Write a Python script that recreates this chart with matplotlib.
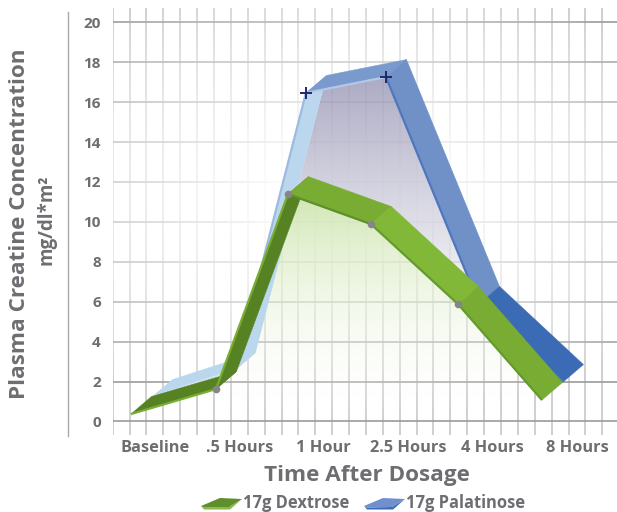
import matplotlib
matplotlib.use('Agg')
import matplotlib.pyplot as plt
from matplotlib.colors import to_rgb
from matplotlib.lines import Line2D
from matplotlib.patches import Polygon
import numpy as np

categories = ['Baseline', '.5 Hours', '1 Hour', '2.5 Hours', '4 Hours', '8 Hours']
y_ticks = list(range(0, 21, 2))

# valores, la perspectiva 3D desplaza cada punto en x
dextrose_x = [-0.284, 0.723, 1.576, 2.559, 3.59, 4.585]
dextrose = [0.37, 1.62, 11.39, 9.89, 5.88, 1.07]
palatinose_x = [-0.036, 0.948, 1.789, 2.737, 3.839, 4.834]
palatinose = [1.22, 2.57, 16.46, 17.26, 5.89, 1.97]

# fondo de la cinta 3D, en unidades de datos
DEPTH_X = 0.243
DEPTH_Y = 0.88
GRAY = '#6d6e71'

green_top = ['#568224', '#568224', '#79ac33', '#82b838', '#79ac33']
green_edge = ['#79ac33', '#79ac33', '#5f8f2a', '#659a2c', '#659a2c']
blue_top = ['#bbd7ee', '#bbd7ee', '#7a9ace', '#7090c8', '#3b6bb5']
blue_edge = ['#d5e2f2', '#9dbae0', '#b5c7e6', '#4f77bd', '#4f77bd']

plt.rcParams['font.family'] = ['Open Sans', 'DejaVu Sans']

fig = plt.figure(figsize=(6.17, 5.12), dpi=100)
ax = fig.add_axes([112.7 / 617, 1 - 435 / 512, 1 - 112.7 / 617, 427 / 512])
ax.set_xlim(-0.5, 5.474)
ax.set_ylim(-0.68, 20.72)
for s in ax.spines.values():
    s.set_visible(False)

# rejilla
ax.set_yticks(y_ticks)
ax.set_xticks(range(len(categories)))
ax.set_xticklabels(categories)
ax.set_xticks(np.arange(-0.5, 5.5, 0.2), minor=True)
ax.tick_params(which='both', length=0)
ax.tick_params(axis='y', pad=8.5, labelsize=11, labelcolor=GRAY)
ax.tick_params(axis='x', pad=3.5, labelsize=11.8, labelcolor=GRAY)
for lab in ax.get_xticklabels() + ax.get_yticklabels():
    lab.set_fontweight('bold')
ax.grid(True, axis='y', which='major', color='#9b9b9b', lw=1.2, zorder=1)
ax.grid(True, axis='x', which='minor', color='#cbcbcb', lw=1.3, zorder=1)
ax.set_axisbelow(True)

# la rejilla se desvanece hacia el centro
yy, xx = np.mgrid[0:1:200j, 0:1:200j]
r = np.sqrt(((xx - 0.47) / 0.62) ** 2 + ((yy - 0.56) / 0.42) ** 2)
glow = np.ones((200, 200, 4))
glow[..., 3] = np.clip(1.25 - r, 0, 1) ** 0.8 * 0.95
ax.imshow(glow, extent=[-0.5, 5.474, -0.68, 20.72], origin='lower', aspect='auto', zorder=1.5)


def relleno(puntos, color, v_top, v_bottom, a_top, pot, z):
    """Relleno con degradado vertical que se hace transparente hacia abajo."""
    t = np.linspace(1, 0, 200).reshape(-1, 1)
    img = np.zeros((200, 2, 4))
    img[..., :3] = to_rgb(color)
    img[..., 3] = a_top * t ** pot
    im = ax.imshow(img, extent=[-0.5, 5.474, v_bottom, v_top], aspect='auto', zorder=z)
    im.set_clip_path(Polygon(puntos, closed=True, transform=ax.transData))


def cinta(x, y, tops, edges, z):
    for i in range(len(x) - 1):
        quad = [(x[i], y[i]), (x[i + 1], y[i + 1]),
                (x[i + 1] + DEPTH_X, y[i + 1] + DEPTH_Y), (x[i] + DEPTH_X, y[i] + DEPTH_Y)]
        ax.add_patch(Polygon(quad, closed=True, fc=tops[i], ec=tops[i], lw=0.3, zorder=z + i * 0.01))
        ax.plot(x[i:i + 2], y[i:i + 2], color=edges[i], lw=1.6, zorder=z + i * 0.01 + 0.005,
                solid_capstyle='butt')


gx, gy = np.array(dextrose_x), np.array(dextrose)
bx, by = np.array(palatinose_x), np.array(palatinose)

zona_azul = [(bx[1] + DEPTH_X, by[1] + DEPTH_Y), (bx[2] + DEPTH_X, by[2] + DEPTH_Y),
             (bx[3], by[3]), (bx[4], by[4]), (gx[3], gy[3]), (gx[2], gy[2]),
             (gx[1] + DEPTH_X, gy[1] + DEPTH_Y)]
relleno(zona_azul, '#8583a8', 17.3, 3, 0.68, 1.3, 2)

zona_verde = [(gx[1] + DEPTH_X, gy[1] + DEPTH_Y), (gx[2] + DEPTH_X, gy[2] + DEPTH_Y),
              (gx[3], gy[3]), (gx[4], gy[4]), (gx[5], gy[5]), (gx[0], gy[0])]
relleno(zona_verde, '#a9d273', 11.5, 0.5, 0.55, 1.8, 2.1)

cinta(palatinose_x, palatinose, blue_top, blue_edge, 3)
cinta(dextrose_x, dextrose, green_top, green_edge, 4)

# marcadores visibles
ax.plot(gx[1:5], gy[1:5], ls='none', marker='o', ms=5.5, color='#86868a', mew=0, zorder=5)
ax.plot(bx[2:4], by[2:4], ls='none', marker='+', ms=8, mew=1.4, color='#1f2a6b', zorder=5)

# titulos
fig.text(367 / 617, 1 - 475 / 512, 'Time After Dosage', ha='center', va='center',
         fontsize=16.2, fontweight='bold', color=GRAY)
fig.text(20 / 617, 1 - 224 / 512, 'Plasma Creatine Concentration', rotation=90, ha='center',
         va='center', fontsize=16.2, fontweight='bold', color=GRAY)
fig.text(46 / 617, 1 - 220 / 512, 'mg/dl*m²', rotation=90, ha='center', va='center',
         fontsize=13.5, fontweight='bold', color=GRAY)
fig.add_artist(Line2D([68 / 617, 68 / 617], [1 - 12 / 512, 1 - 436 / 512], color='#a8a8a8', lw=1))


# leyenda
def clave(x0, arriba, abajo):
    pts = [(x0, 506), (x0 + 19, 498), (x0 + 41, 499), (x0 + 28, 507), (x0 + 3, 507.5)]
    borde = [(x0, 506), (x0 + 3, 507.5), (x0 + 28, 507), (x0 + 41, 499), (x0 + 29, 509.5), (x0 + 3, 509.5)]
    for p, c in ((borde, abajo), (pts, arriba)):
        fig.add_artist(Polygon([(a / 617, 1 - b / 512) for a, b in p], closed=True, fc=c, ec='none',
                               transform=fig.transFigure))


clave(201, '#5f8f2a', '#8ab74e')
clave(364, '#6f90cc', '#3b6bb5')
fig.text(243 / 617, 1 - 503 / 512, '17g Dextrose', ha='left', va='center', fontsize=11.9,
         fontweight='bold', color=GRAY)
fig.text(406 / 617, 1 - 503 / 512, '17g Palatinose', ha='left', va='center', fontsize=11.9,
         fontweight='bold', color=GRAY)

fig.savefig('out.png', dpi=100)
